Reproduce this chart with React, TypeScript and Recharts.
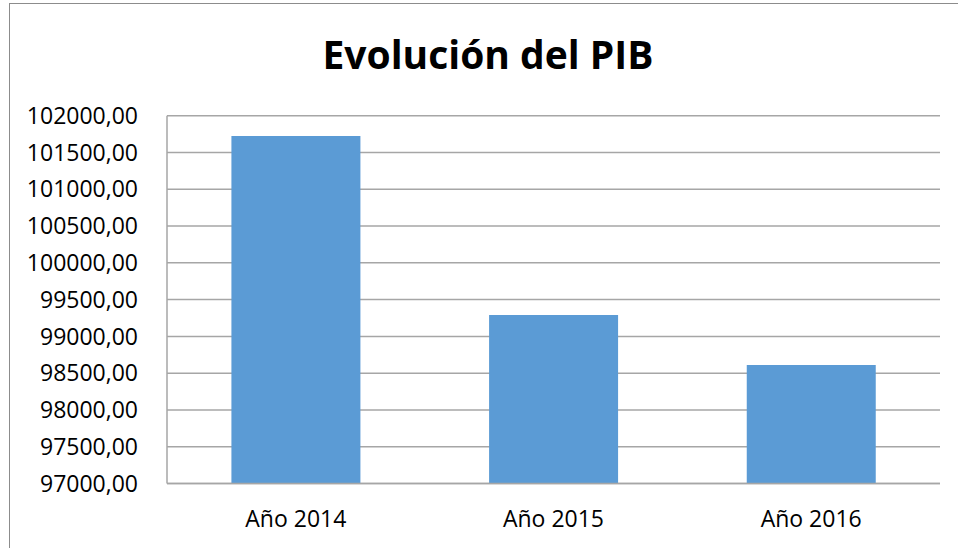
import React from 'react';
import { BarChart, Bar, XAxis, YAxis, CartesianGrid } from 'recharts';

const years = ['Año 2014', 'Año 2015', 'Año 2016'];
const pib = [101724, 99292, 98611];
const yTicks = [97000, 97500, 98000, 98500, 99000, 99500, 100000, 100500, 101000, 101500, 102000];

const data = years.map((year, i) => ({ year, pib: pib[i] }));

const font = '"Open Sans", sans-serif';
const grid = '#a6a6a6';

// spanish style number: 102000,00
const fmt = (v: number) => v.toFixed(2).replace('.', ',');

const App: React.FC = () => {
  return (
    <div style={{ position: 'absolute', left: 0, top: 0, width: 958, height: 548, overflow: 'hidden', background: '#fff' }}>
      {/* outer chart frame, runs off the right and bottom edges */}
      <div
        style={{
          position: 'absolute',
          left: 9,
          top: 3,
          width: 990,
          height: 600,
          border: '1.5px solid #8c8c8c',
          boxSizing: 'border-box',
        }}
      />
      <div
        style={{
          position: 'absolute',
          left: 0,
          top: 34,
          width: 976,
          textAlign: 'center',
          fontFamily: font,
          fontWeight: 700,
          fontSize: 39,
          lineHeight: '39px',
          color: '#000',
        }}
      >
        Evolución del PIB
      </div>
      <BarChart
        width={958}
        height={548}
        data={data}
        margin={{ top: 115.7, right: 18, bottom: 24.5, left: 0 }}
        barCategoryGap="25%"
        style={{ position: 'absolute', left: 0, top: 0 }}
      >
        <CartesianGrid vertical={false} stroke={grid} strokeWidth={1.5} />
        <XAxis
          dataKey="year"
          height={40}
          tickLine={false}
          tickSize={0}
          tickMargin={27}
          axisLine={{ stroke: grid, strokeWidth: 1.5 }}
          tick={{ fill: '#000', fontSize: 23, fontFamily: font }}
        />
        <YAxis
          width={167}
          domain={[97000, 102000]}
          ticks={yTicks}
          interval={0}
          tickFormatter={fmt}
          tickLine={false}
          tickSize={0}
          tickMargin={29}
          axisLine={{ stroke: grid, strokeWidth: 1.5 }}
          tick={{ fill: '#000', fontSize: 23, fontFamily: font }}
        />
        <Bar dataKey="pib" fill="#5b9bd5" isAnimationActive={false} />
      </BarChart>
    </div>
  );
};

export default App;
